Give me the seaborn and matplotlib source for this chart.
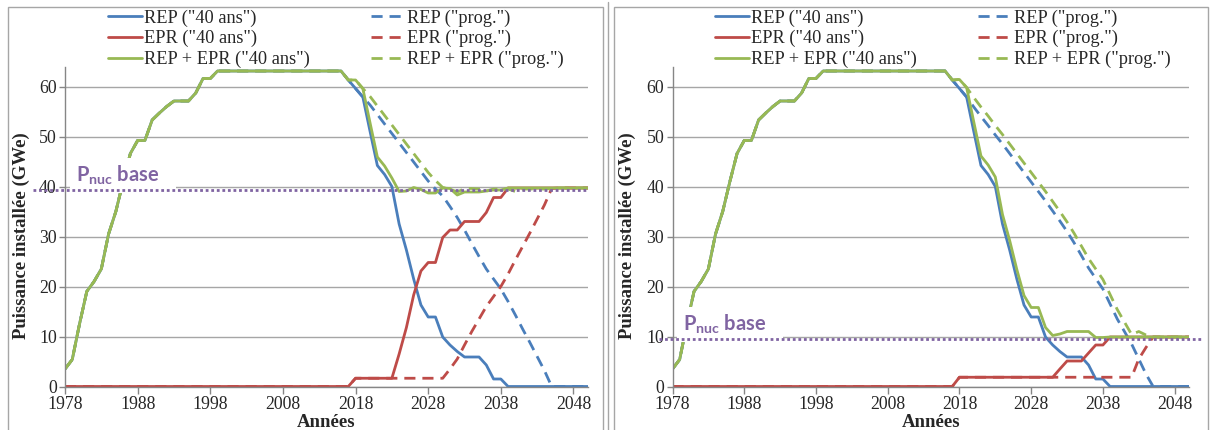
import matplotlib
matplotlib.use("Agg")
import matplotlib.pyplot as plt
import seaborn as sns
from matplotlib.lines import Line2D
from matplotlib.patches import Rectangle

# ---------------- data ----------------
years = list(range(1978, 2051))
year_ticks = list(range(1978, 2049, 10))
y_ticks = [0, 10, 20, 30, 40, 50, 60]

# common history 1978-2016 (REP only)
early = [3.5, 5.4, 12.5, 19.0, 21.0, 23.5, 30.5, 35.0, 41.0, 46.6, 49.2, 49.2,
         53.3, 54.7, 56.0, 57.1, 57.1, 57.1, 58.7, 61.6, 61.6] + [63.1] * 18

rep_40 = early + [61.3, 59.6, 57.9, 51.0, 44.2, 42.4, 40.0, 32.5, 27.3, 21.5, 16.3,
                  13.9, 13.9, 9.9, 8.3, 7.0, 5.9, 5.9, 5.9, 4.3, 1.5, 1.5] + [0.0] * 12

# left chart (Pnuc base ~ 39 GWe)
epr_40_a = [0.0] * 40 + [1.65] * 6 + [6.5, 11.8, 18.3, 23.1, 24.8, 24.8, 29.8, 31.3,
                                      31.3, 33.0, 33.0, 33.0, 34.8, 37.8, 37.8] + [39.7] * 12
tot_40_a = early + [61.3, 61.3, 59.6, 52.7, 45.9, 44.1, 41.7, 39.0, 39.1, 39.8, 39.4,
                    38.7, 38.7, 39.7, 39.6, 38.3, 38.9, 38.9, 38.9, 39.1, 39.3, 39.3] + [39.7] * 12
rep_prog_a = early + [61.3, 59.6, 57.9, 56.3, 54.4, 52.5, 50.6, 48.7, 46.8, 44.9, 43.0,
                      41.1, 39.5, 38.1, 36.0, 33.8, 31.3, 28.6, 26.0, 23.5, 21.5, 19.5,
                      17.0, 14.3, 11.5, 8.8, 6.0, 3.2] + [0.0] * 6
epr_prog_a = [0.0] * 40 + [1.65] * 13 + [3.5, 5.5, 8.3, 11.0, 13.5, 16.0, 18.0, 20.0,
                                         22.5, 25.3, 28.0, 30.7, 33.5, 36.3, 39.6] + [39.7] * 5
tot_prog_a = early + [61.3, 61.3, 59.6, 58.0, 56.1, 54.2, 52.3, 50.4, 48.5, 46.6, 44.7,
                      42.8, 41.2, 39.8, 39.5, 38.9, 39.6, 39.6, 39.5, 39.1, 39.5, 39.5,
                      39.5, 39.0, 39.5, 39.5, 39.5, 39.5, 39.6] + [39.7] * 5
pnuc_a = 39.3

# right chart (Pnuc base ~ 10 GWe)
epr_40_b = [0.0] * 40 + [1.85] * 14 + [3.5, 5.1, 5.1, 5.1, 6.7, 8.3, 8.3] + [9.9] * 12
tot_40_b = early + [61.3, 61.4, 59.8, 52.9, 46.1, 44.3, 41.9, 34.4, 29.2, 23.4, 18.2,
                    15.8, 15.8, 11.8, 10.2, 10.5, 11.0, 11.0, 11.0, 11.0, 9.8, 9.8] + [9.9] * 12
rep_prog_b = early + [61.3, 59.6, 57.9, 55.9, 54.0, 52.2, 50.3, 48.5, 46.6, 44.7, 42.8,
                      40.9, 39.0, 37.1, 35.1, 33.1, 31.0, 28.7, 26.2, 23.7, 21.6, 19.5,
                      16.5, 13.5, 11.0, 8.5, 5.5, 2.5] + [0.0] * 6
epr_prog_b = [0.0] * 40 + [1.85] * 25 + [5.5, 7.8] + [9.9] * 6
tot_prog_b = early + [61.3, 61.4, 59.8, 57.8, 55.9, 54.1, 52.2, 50.4, 48.5, 46.6, 44.7,
                      42.8, 40.9, 39.0, 37.0, 35.0, 32.9, 30.6, 28.1, 25.6, 23.5, 21.4,
                      18.4, 15.4, 12.9, 10.4, 11.0, 10.3] + [9.9] * 6
pnuc_b = 9.5

labels = ['REP ("40 ans")', 'REP ("prog.")', 'EPR ("40 ans")', 'EPR ("prog.")',
          'REP + EPR ("40 ans")', 'REP + EPR ("prog.")']

# ---------------- style ----------------
sns.set_theme(style="white")
plt.rcParams['font.family'] = ['Liberation Serif', 'DejaVu Serif']

BLUE, RED, GREEN, PURPLE = '#4A7EBB', '#BE4B48', '#98B954', '#8064A2'
GRID, SPINE, FRAME = '#a6a6a6', '#868686', '#a6a6a6'
SOLID, DASH, DOT = '-', (0, (4, 2.5)), (0, (1, 1))
LW = 2.0
colors = [BLUE, BLUE, RED, RED, GREEN, GREEN]
styles = [SOLID, DASH, SOLID, DASH, SOLID, DASH]

W, H = 1211, 430
fig = plt.figure(figsize=(W / 100, H / 100), dpi=100)

panels = [
    dict(rect=[65 / W, 43.5 / H, 523 / W, 320 / H],
         series=[rep_40, rep_prog_a, epr_40_a, epr_prog_a, tot_40_a, tot_prog_a],
         pnuc=pnuc_a, line_x=(-0.062, 1.0), ylab_x=-0.067, leg_x=108),
    dict(rect=[672.5 / W, 43.5 / H, 516.5 / W, 320 / H],
         series=[rep_40, rep_prog_b, epr_40_b, epr_prog_b, tot_40_b, tot_prog_b],
         pnuc=pnuc_b, line_x=(-0.026, 1.025), ylab_x=-0.071, leg_x=715),
]

for p in panels:
    ax = fig.add_axes(p['rect'])
    for vals, c, ls in zip(p['series'], colors, styles):
        sns.lineplot(x=years, y=vals, ax=ax, color=c, lw=LW, linestyle=ls,
                     legend=False, zorder=2)
    ax.set_xlim(1978, 2050)
    ax.set_ylim(0, 64)
    ax.set_xticks(year_ticks)
    ax.set_yticks(y_ticks)
    ax.yaxis.grid(True, color=GRID, lw=1.0)
    ax.xaxis.grid(False)
    ax.set_axisbelow(True)
    for s in ['top', 'right']:
        ax.spines[s].set_visible(False)
    for s in ['left', 'bottom']:
        ax.spines[s].set_color(SPINE)
        ax.spines[s].set_linewidth(1.0)
    ax.tick_params(axis='x', direction='out', length=5, width=1, color=SPINE,
                   labelsize=12.8, pad=2, bottom=True)
    ax.tick_params(axis='y', direction='out', length=4, width=1, color=SPINE,
                   labelsize=12.8, pad=2, left=True)
    ax.set_xlabel("Années", fontsize=13.5, fontweight='bold')
    ax.set_ylabel("Puissance installée (GWe)", fontsize=13.5, fontweight='bold')
    ax.xaxis.set_label_coords(0.5, -0.085)
    ax.yaxis.set_label_coords(p['ylab_x'], 0.47)

    # Pnuc base reference line + label
    ax.axhline(p['pnuc'], xmin=p['line_x'][0], xmax=p['line_x'][1], color=PURPLE,
               lw=2.0, linestyle=DOT, clip_on=False, zorder=5)
    ax.text(0.021, p['pnuc'] + 1.6, r"P$_\mathregular{nuc}$ base   ",
            transform=ax.get_yaxis_transform(), fontsize=14.5, fontweight='bold',
            family=['Lato', 'DejaVu Sans'], color=PURPLE, ha='left', va='baseline',
            zorder=4, bbox=dict(boxstyle='square,pad=0.3', fc='white', ec='none'))

    handles = [Line2D([], [], color=c, lw=LW, linestyle=ls) for c, ls in zip(colors, styles)]
    order = [0, 2, 4, 1, 3, 5]
    fig.legend([handles[i] for i in order], [labels[i] for i in order],
               loc='upper left', bbox_to_anchor=(p['leg_x'] / W, 1 - 9.5 / H),
               ncol=2, frameon=False, fontsize=13.2, handlelength=1.85,
               handletextpad=0.12, columnspacing=3.35, labelspacing=0.18,
               borderpad=0, borderaxespad=0)

# chart-area frames
fig.add_artist(Rectangle((8 / W, -0.05), (603 - 8) / W, (H - 7) / H + 0.05,
                         transform=fig.transFigure, fill=False, ec=FRAME, lw=1))
fig.add_artist(Rectangle((614 / W, -0.05), (1208 - 614) / W, (H - 7) / H + 0.05,
                         transform=fig.transFigure, fill=False, ec=FRAME, lw=1))
fig.add_artist(Line2D([608 / W, 608 / W], [0, (H - 2) / H], transform=fig.transFigure,
                      color=FRAME, lw=1))

fig.savefig("out.png", dpi=100)
